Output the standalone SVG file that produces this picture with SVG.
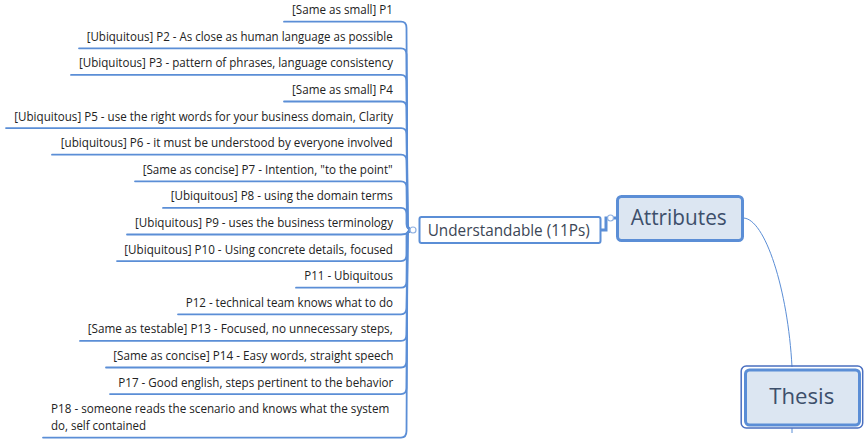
<svg xmlns="http://www.w3.org/2000/svg" width="867" height="447" viewBox="0 0 867 447">
<style>
.bg{fill:#ffffff}
.br{fill:none;stroke:#5b8ed6;stroke-width:1.8;stroke-linejoin:round;stroke-linecap:round}
.t{font-family:"Open Sans","Noto Sans","Liberation Sans",sans-serif;font-size:12px;fill:#222222}
.knob{fill:#ffffff;stroke:#8fb0e0;stroke-width:1.2}
.mid{fill:#ffffff;stroke:#5b8ed6;stroke-width:2}
.mt{font-family:"Open Sans","Noto Sans","Liberation Sans",sans-serif;font-size:16px;fill:#3b4656}
.big{fill:#dce6f2;stroke:#5b8ed6;stroke-width:3}
.bt{font-family:"Open Sans","Noto Sans","Liberation Sans",sans-serif;fill:#3d4f6b}
</style>
<rect class="bg" x="0" y="0" width="867" height="447"/>
<g id="connectors">
<path class="br" d="M284 21.7 L401 21.7 Q406.5 21.7 406.5 28 L407.5 224 Q407.5 230 413 230"/>
<path class="br" d="M79 48.3 L401 48.3 Q406.5 48.3 406.5 54.5 L407.5 224 Q407.5 230 413 230"/>
<path class="br" d="M71 74.9 L401 74.9 Q406.5 74.9 406.5 81 L407.5 224 Q407.5 230 413 230"/>
<path class="br" d="M284 101.5 L401 101.5 Q406.5 101.5 406.5 107.5 L407.5 224 Q407.5 230 413 230"/>
<path class="br" d="M6 128.1 L401 128.1 Q406.5 128.1 406.5 134 L407.5 224 Q407.5 230 413 230"/>
<path class="br" d="M52 154.7 L401 154.7 Q406.5 154.7 406.5 160.5 L407.5 224 Q407.5 230 413 230"/>
<path class="br" d="M135 181.3 L401 181.3 Q406.5 181.3 406.5 187 L407 224 Q407 230 413 230"/>
<path class="br" d="M163 207.9 L401 207.9 Q406.5 207.9 406.5 214 L406.5 224 Q406.5 230 413 230"/>
<path class="br" d="M127 234.5 L401 234.5 Q406 234.5 409 232 Q411 230 413 230"/>
<path class="br" d="M117 261.1 L401 261.1 Q406.5 261.1 406.5 255 L406.5 236 Q406.5 230 413 230"/>
<path class="br" d="M296 287.7 L401 287.7 Q406.5 287.7 406.5 281.5 L407 236 Q407 230 413 230"/>
<path class="br" d="M178 314.3 L401 314.3 Q406.5 314.3 406.5 308 L407.5 236 Q407.5 230 413 230"/>
<path class="br" d="M80 340.9 L401 340.9 Q406.5 340.9 406.5 334.5 L407.5 236 Q407.5 230 413 230"/>
<path class="br" d="M106 367.5 L401 367.5 Q406.5 367.5 406.5 361 L407.5 236 Q407.5 230 413 230"/>
<path class="br" d="M110 394.1 L401 394.1 Q406.5 394.1 406.5 388 L407.5 236 Q407.5 230 413 230"/>
<path class="br" d="M43 437.6 L401 437.6 Q406.5 437.6 406.5 431 L407.5 236 Q407.5 230 413 230"/>
<circle class="knob" cx="413" cy="230" r="3"/>
<path d="M601 230 L606 230 L606 218 L617 218" fill="none" stroke="#5b8ed6" stroke-width="3"/>
<circle class="knob" cx="610.5" cy="218" r="3"/>
<path d="M743 218 C765 218 788 290 792 367" fill="none" stroke="#5b8ed6" stroke-width="1"/>
<path d="M792 428 L792 433" fill="none" stroke="#5b8ed6" stroke-width="1"/>
</g>
<g id="p1"><text class="t" x="292" y="14.2" textLength="101" lengthAdjust="spacingAndGlyphs">[Same as small] P1</text></g>
<g id="p2"><text class="t" x="86.7" y="40.8" textLength="306" lengthAdjust="spacingAndGlyphs">[Ubiquitous] P2 - As close as human language as possible</text></g>
<g id="p3"><text class="t" x="79" y="67.4" textLength="314" lengthAdjust="spacingAndGlyphs">[Ubiquitous] P3 - pattern of phrases, language consistency</text></g>
<g id="p4"><text class="t" x="292" y="94" textLength="101" lengthAdjust="spacingAndGlyphs">[Same as small] P4</text></g>
<g id="p5"><text class="t" x="14.3" y="120.6" textLength="378.7" lengthAdjust="spacingAndGlyphs">[Ubiquitous] P5 - use the right words for your business domain, Clarity</text></g>
<g id="p6"><text class="t" x="60.7" y="147.2" textLength="332" lengthAdjust="spacingAndGlyphs">[ubiquitous] P6 - it must be understood by everyone involved</text></g>
<g id="p7"><text class="t" x="142.7" y="173.8" textLength="250" lengthAdjust="spacingAndGlyphs">[Same as concise] P7 - Intention, "to the point"</text></g>
<g id="p8"><text class="t" x="170.7" y="200.4" textLength="222" lengthAdjust="spacingAndGlyphs">[Ubiquitous] P8 - using the domain terms</text></g>
<g id="p9"><text class="t" x="135" y="227" textLength="258" lengthAdjust="spacingAndGlyphs">[Ubiquitous] P9 - uses the business terminology</text></g>
<g id="p10"><text class="t" x="124.3" y="253.6" textLength="268.7" lengthAdjust="spacingAndGlyphs">[Ubiquitous] P10 - Using concrete details, focused</text></g>
<g id="p11"><text class="t" x="304.3" y="280.2" textLength="88.7" lengthAdjust="spacingAndGlyphs">P11 - Ubiquitous</text></g>
<g id="p12"><text class="t" x="185.7" y="306.8" textLength="207.3" lengthAdjust="spacingAndGlyphs">P12 - technical team knows what to do</text></g>
<g id="p13"><text class="t" x="87.7" y="333.4" textLength="305" lengthAdjust="spacingAndGlyphs">[Same as testable] P13 - Focused, no unnecessary steps,</text></g>
<g id="p14"><text class="t" x="113.3" y="360" textLength="280" lengthAdjust="spacingAndGlyphs">[Same as concise] P14 - Easy words, straight speech</text></g>
<g id="p17"><text class="t" x="118.3" y="386.6" textLength="275" lengthAdjust="spacingAndGlyphs">P17 - Good english, steps pertinent to the behavior</text></g>
<g id="p18"><text class="t" x="51" y="413" textLength="338.3" lengthAdjust="spacingAndGlyphs">P18 - someone reads the scenario and knows what the system</text><text class="t" x="51" y="429.5" textLength="95" lengthAdjust="spacingAndGlyphs">do, self contained</text></g>
<g id="understandable">
<rect class="mid" x="419.5" y="217" width="181" height="26" rx="2"/>
<text class="mt" x="427.7" y="235.5" textLength="162" lengthAdjust="spacingAndGlyphs">Understandable (11Ps)</text>
</g>
<g id="attributes">
<rect class="big" x="617.5" y="196.5" width="125" height="44" rx="4"/>
<text class="bt" x="630.7" y="224.5" font-size="21.5" textLength="96" lengthAdjust="spacingAndGlyphs">Attributes</text>
</g>
<g id="thesis">
<rect x="741.2" y="366" width="121.5" height="62" rx="5" fill="none" stroke="#4a6fc0" stroke-width="1.5"/>
<rect class="big" x="745.5" y="370" width="114" height="55" rx="4"/>
<text class="bt" x="769.3" y="404" font-size="21.5" fill="#3a5687" textLength="65" lengthAdjust="spacingAndGlyphs">Thesis</text>
</g>
</svg>
